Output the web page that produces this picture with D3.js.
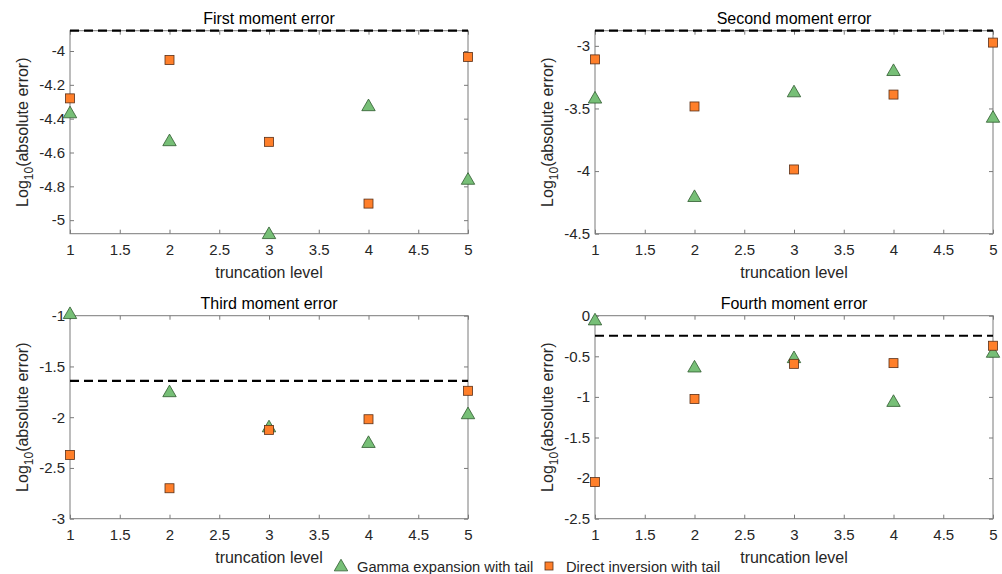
<!DOCTYPE html>
<html>
<head>
<meta charset="utf-8">
<script src="https://cdn.jsdelivr.net/npm/d3@7"></script>
<style>
  html, body { margin: 0; padding: 0; background: #fff; }
  svg { display: block; font-family: "Liberation Sans", Arial, Helvetica, sans-serif; }
</style>
</head>
<body>
<svg id="chart" width="1002" height="574"></svg>
<script>
// Truncation levels shared by every panel
const levels = [1, 2, 3, 4, 5];

// Panel titles
const titles = ["First moment error", "Second moment error", "Third moment error", "Fourth moment error"];

// log10 absolute error, gamma expansion with tail
const gammaFirst  = [-4.366, -4.531, -5.08, -4.324, -4.759];
const gammaSecond = [-3.418, -4.204, -3.368, -3.198, -3.571];
const gammaThird  = [-0.98, -1.750, -2.096, -2.250, -1.967];
const gammaFourth = [-0.053, -0.633, -0.518, -1.057, -0.452];

// log10 absolute error, direct inversion with tail
const directFirst  = [-4.280, -4.053, -4.537, -4.902, -4.035];
const directSecond = [-3.108, -3.484, -3.987, -3.389, -2.974];
const directThird  = [-2.372, -2.700, -2.125, -2.020, -1.740];
const directFourth = [-2.049, -1.025, -0.593, -0.584, -0.370];

// Reference level (dashed line) for each moment
const thresholds = [-3.88, -2.879, -1.642, -0.247];

// Y-axis limits and tick values per panel
const yLimits = [[-5.08, -3.88], [-4.5, -2.879], [-3, -1], [-2.5, 0]];
const yTicks = [
  [-5, -4.8, -4.6, -4.4, -4.2, -4],
  [-4.5, -4, -3.5, -3],
  [-3, -2.5, -2, -1.5, -1],
  [-2.5, -2, -1.5, -1, -0.5, 0]
];
const xTicks = [1, 1.5, 2, 2.5, 3, 3.5, 4, 4.5, 5];

const seriesNames = ["Gamma expansion with tail", "Direct inversion with tail"];

const gammaSets = [gammaFirst, gammaSecond, gammaThird, gammaFourth];
const directSets = [directFirst, directSecond, directThird, directFourth];

const svg = d3.select("#chart");

const panelLeft = [70, 595, 70, 595];
const panelTop = [30.7, 30.7, 315.7, 315.7];
const panelW = 398, panelH = 203;

const boxColor = "#7a7a7a";
const textColor = "#262626";
const greenFill = "#77bf77", greenEdge = "#2f5a2f";
const orangeFill = "#ff7f2a", orangeEdge = "#5a3018";

const triangle = d3.symbol().type(d3.symbolTriangle).size(78);

const fmt = v => String(+v.toFixed(2));

titles.forEach((title, i) => {
  const g = svg.append("g").attr("transform", `translate(${panelLeft[i]},${panelTop[i]})`);
  const x = d3.scaleLinear().domain([1, 5]).range([0, panelW]);
  const y = d3.scaleLinear().domain(yLimits[i]).range([panelH, 0]);

  // Box frame
  g.append("rect").attr("width", panelW).attr("height", panelH)
    .attr("fill", "none").attr("stroke", boxColor).attr("stroke-width", 1);

  // Inward ticks on all four sides
  const tickLen = 4;
  const bottom = d3.axisBottom(x).tickValues(xTicks).tickSize(-tickLen).tickPadding(10.5).tickFormat(fmt);
  const top = d3.axisTop(x).tickValues(xTicks).tickSize(-tickLen).tickFormat("");
  const left = d3.axisLeft(y).tickValues(yTicks[i]).tickSize(-tickLen).tickPadding(5).tickFormat(fmt);
  const right = d3.axisRight(y).tickValues(yTicks[i]).tickSize(-tickLen).tickFormat("");

  const styleAxis = sel => {
    sel.select(".domain").remove();
    sel.selectAll(".tick line").attr("stroke", boxColor);
    sel.selectAll(".tick text").attr("fill", textColor).style("font-size", "15px");
  };
  g.append("g").attr("transform", `translate(0,${panelH})`).call(bottom).call(styleAxis);
  g.append("g").call(top).call(styleAxis);
  g.append("g").call(left).call(styleAxis);
  g.append("g").attr("transform", `translate(${panelW},0)`).call(right).call(styleAxis);

  // Title
  g.append("text").attr("x", panelW / 2).attr("y", -7)
    .attr("text-anchor", "middle").attr("fill", "#000")
    .style("font-size", "16px").text(title);

  // X label
  g.append("text").attr("x", panelW / 2).attr("y", panelH + 44)
    .attr("text-anchor", "middle").attr("fill", textColor)
    .style("font-size", "16px").text("truncation level");

  // Y label with subscript
  const yl = g.append("text")
    .attr("transform", `translate(-42,${panelH / 2}) rotate(-90)`)
    .attr("text-anchor", "middle").attr("fill", textColor)
    .style("font-size", "16px");
  yl.append("tspan").text("Log");
  yl.append("tspan").attr("dy", 5).style("font-size", "12px").text("10");
  yl.append("tspan").attr("dy", -5).text("(absolute error)");

  // Dashed reference line
  g.append("line")
    .attr("x1", x(1)).attr("x2", x(5))
    .attr("y1", y(thresholds[i])).attr("y2", y(thresholds[i]))
    .attr("stroke", "#000").attr("stroke-width", 2.2)
    .attr("stroke-dasharray", "9,5");

  // Gamma expansion markers (triangles)
  g.selectAll(".gamma").data(levels.map((l, k) => [l, gammaSets[i][k]]))
    .join("path").attr("class", "gamma")
    .attr("d", triangle)
    .attr("transform", d => `translate(${x(d[0])},${y(d[1]) + 1})`)
    .attr("fill", greenFill).attr("stroke", greenEdge).attr("stroke-width", 0.8);

  // Direct inversion markers (squares)
  g.selectAll(".direct").data(levels.map((l, k) => [l, directSets[i][k]]))
    .join("rect").attr("class", "direct")
    .attr("x", d => x(d[0]) - 4.5).attr("y", d => y(d[1]) - 4.5)
    .attr("width", 9).attr("height", 9)
    .attr("fill", orangeFill).attr("stroke", orangeEdge).attr("stroke-width", 0.8);
});

// Legend
const legend = svg.append("g").attr("transform", "translate(0,566)");
legend.append("path").attr("d", triangle)
  .attr("transform", "translate(341,1)")
  .attr("fill", greenFill).attr("stroke", greenEdge).attr("stroke-width", 0.8);
legend.append("text").attr("x", 357).attr("y", 5.5)
  .attr("fill", textColor).style("font-size", "14.7px").text(seriesNames[0]);
legend.append("rect").attr("x", 545).attr("y", -4).attr("width", 8).attr("height", 8)
  .attr("fill", orangeFill).attr("stroke", orangeEdge).attr("stroke-width", 0.8);
legend.append("text").attr("x", 566).attr("y", 5.5)
  .attr("fill", textColor).style("font-size", "14.7px").text(seriesNames[1]);
</script>
</body>
</html>
